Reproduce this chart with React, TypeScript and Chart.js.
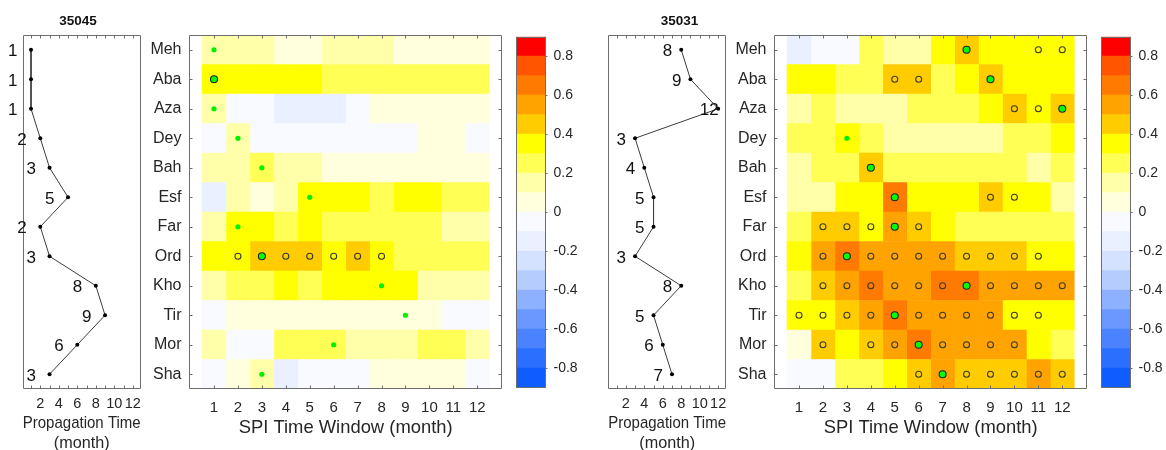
import React, { useEffect, useRef } from 'react';
import { Chart, registerables } from 'chart.js';

Chart.register(...registerables);

const FONT = "'Liberation Sans', Arial, Helvetica, sans-serif";
const TEXT = '#262626';
const FRAME = '#6e6e6e';
Chart.defaults.font.family = FONT;
Chart.defaults.color = TEXT;

// ---------------- data ----------------
const stationLeft = '35045';
const stationRight = '35031';
const rows = ['Meh', 'Aba', 'Aza', 'Dey', 'Bah', 'Esf', 'Far', 'Ord', 'Kho', 'Tir', 'Mor', 'Sha'];
const windows = [1, 2, 3, 4, 5, 6, 7, 8, 9, 10, 11, 12];
const propTicks = [2, 4, 6, 8, 10, 12];
const propMinorTicks = [1, 2, 3, 4, 5, 6, 7, 8, 9, 10, 11, 12];
const cbarTicks = [-0.8, -0.6, -0.4, -0.2, 0, 0.2, 0.4, 0.6, 0.8];
const levelEdges = [-0.9, -0.8, -0.7, -0.6, -0.5, -0.4, -0.3, -0.2, -0.1, 0, 0.1, 0.2, 0.3, 0.4, 0.5, 0.6, 0.7, 0.8, 0.9];
const levelColors = [
  '#0f5cff', '#2a6fff', '#4a82ff', '#6a98ff', '#8db0ff', '#b5ccff', '#d5e2ff', '#eaf0ff', '#f8faff',
  '#ffffde', '#ffffaa', '#ffff55', '#ffff00', '#ffcc00', '#ffa300', '#ff7a00', '#ff5500', '#ff0000',
];

// propagation time (month) per region
const propLeft = [1, 1, 1, 2, 3, 5, 2, 3, 8, 9, 6, 3];
const propRight = [8, 9, 12, 3, 4, 5, 5, 3, 8, 5, 6, 7];

// correlation per region (rows) and SPI time window (columns)
const corrLeft = [
  [0.15, 0.15, 0.15, 0.05, 0.05, 0.15, 0.15, 0.15, 0.05, 0.05, 0.05, 0.05],
  [0.35, 0.35, 0.35, 0.35, 0.35, 0.25, 0.25, 0.25, 0.25, 0.25, 0.25, 0.25],
  [0.15, -0.05, -0.05, -0.15, -0.15, -0.15, -0.05, 0.05, 0.05, 0.05, 0.05, 0.05],
  [-0.05, 0.15, -0.05, -0.05, -0.05, -0.05, -0.05, -0.05, -0.05, 0.05, 0.05, -0.05],
  [0.15, 0.15, 0.25, 0.15, 0.15, 0.05, 0.05, 0.05, 0.05, 0.05, 0.05, 0.05],
  [-0.15, 0.15, 0.05, 0.15, 0.35, 0.35, 0.35, 0.25, 0.35, 0.35, 0.25, 0.25],
  [0.15, 0.35, 0.35, 0.25, 0.35, 0.25, 0.25, 0.25, 0.25, 0.25, 0.15, 0.15],
  [0.35, 0.35, 0.45, 0.45, 0.45, 0.35, 0.45, 0.35, 0.25, 0.25, 0.25, 0.25],
  [0.15, 0.25, 0.25, 0.35, 0.25, 0.35, 0.35, 0.35, 0.35, 0.15, 0.15, 0.15],
  [-0.05, 0.05, 0.05, 0.05, 0.05, 0.05, 0.05, 0.05, 0.05, 0.05, -0.05, -0.05],
  [0.15, -0.05, -0.05, 0.25, 0.25, 0.25, 0.15, 0.15, 0.15, 0.25, 0.25, 0.15],
  [-0.05, 0.05, 0.15, -0.15, -0.05, -0.05, -0.05, 0.05, 0.05, 0.05, 0.05, -0.05],
];
const corrRight = [
  [-0.15, -0.05, -0.05, 0.25, 0.15, 0.15, 0.35, 0.45, 0.35, 0.35, 0.35, 0.35],
  [0.35, 0.35, 0.25, 0.25, 0.45, 0.45, 0.25, 0.35, 0.45, 0.35, 0.35, 0.35],
  [0.15, 0.25, 0.15, 0.15, 0.15, 0.25, 0.25, 0.25, 0.35, 0.45, 0.35, 0.45],
  [0.25, 0.25, 0.35, 0.25, 0.15, 0.15, 0.15, 0.15, 0.15, 0.25, 0.25, 0.35],
  [0.15, 0.25, 0.25, 0.45, 0.25, 0.25, 0.25, 0.25, 0.25, 0.25, 0.15, 0.25],
  [0.15, 0.15, 0.35, 0.35, 0.65, 0.35, 0.35, 0.35, 0.45, 0.35, 0.35, 0.15],
  [0.25, 0.45, 0.45, 0.35, 0.55, 0.45, 0.35, 0.25, 0.25, 0.25, 0.25, 0.25],
  [0.35, 0.55, 0.65, 0.55, 0.55, 0.55, 0.55, 0.45, 0.45, 0.45, 0.35, 0.35],
  [0.25, 0.45, 0.55, 0.65, 0.55, 0.55, 0.65, 0.65, 0.55, 0.55, 0.55, 0.55],
  [0.35, 0.35, 0.45, 0.55, 0.65, 0.55, 0.55, 0.55, 0.55, 0.35, 0.35, 0.35],
  [0.05, 0.45, 0.35, 0.45, 0.55, 0.65, 0.55, 0.55, 0.55, 0.55, 0.35, 0.25],
  [-0.05, -0.05, 0.25, 0.25, 0.35, 0.45, 0.55, 0.45, 0.45, 0.45, 0.55, 0.45],
];

// significant SPI windows per region
const sigLeft = [[], [1], [], [], [], [], [], [2, 3, 4, 5, 6, 7, 8], [], [], [], []];
const sigRight = [
  [8, 11, 12],
  [5, 6, 9],
  [10, 11, 12],
  [],
  [4],
  [5, 9, 10],
  [2, 3, 4, 5, 6],
  [2, 3, 4, 5, 6, 7, 8, 9, 10, 11],
  [2, 3, 4, 5, 6, 7, 8, 9, 10, 11, 12],
  [1, 2, 3, 4, 5, 6, 7, 8, 9, 10, 11],
  [2, 4, 5, 6, 7, 8, 9, 10],
  [6, 7, 8, 9, 10, 11, 12],
];

// ---------------- helpers ----------------
function colorFor(v: number) {
  for (let k = 0; k < levelColors.length; k++) {
    if (v >= levelEdges[k] && v < levelEdges[k + 1]) return levelColors[k];
  }
  return v < 0 ? levelColors[0] : levelColors[levelColors.length - 1];
}

type FrameOpts = {
  xTicks?: number[];
  yTicks?: string[];
  rightOutTicks?: number[];
  tick: number;
};

function framePlugin(o: FrameOpts) {
  return {
    id: 'frame',
    afterDatasetsDraw(chart: any) {
      const { ctx, chartArea: a, scales } = chart;
      const L = Math.round(a.left) + 0.5;
      const R = Math.round(a.right) - 0.5;
      const T = Math.round(a.top) + 0.5;
      const B = Math.round(a.bottom) - 0.5;
      ctx.save();
      ctx.strokeStyle = FRAME;
      ctx.lineWidth = 1;
      ctx.beginPath();
      ctx.rect(L, T, R - L, B - T);
      if (o.xTicks) {
        o.xTicks.forEach((v) => {
          const x = Math.round(scales.x.getPixelForValue(v)) + 0.5;
          ctx.moveTo(x, T);
          ctx.lineTo(x, T + o.tick);
          ctx.moveTo(x, B);
          ctx.lineTo(x, B - o.tick);
        });
      }
      if (o.yTicks) {
        o.yTicks.forEach((r) => {
          const y = Math.round(scales.y.getPixelForValue(scales.y.parse(r))) + 0.5;
          ctx.moveTo(L, y);
          ctx.lineTo(L + o.tick, y);
          ctx.moveTo(R, y);
          ctx.lineTo(R - o.tick, y);
        });
      }
      if (o.rightOutTicks) {
        o.rightOutTicks.forEach((v) => {
          const y = Math.round(scales.y.getPixelForValue(v)) + 0.5;
          ctx.moveTo(R, y);
          ctx.lineTo(R + o.tick, y);
        });
      }
      ctx.stroke();
      ctx.restore();
    },
  };
}

function titlePlugin(text: string, x: number) {
  return {
    id: 'stationTitle',
    afterDraw(chart: any) {
      const { ctx } = chart;
      ctx.save();
      ctx.font = `bold 13.5px ${FONT}`;
      ctx.fillStyle = '#111';
      ctx.textAlign = 'center';
      ctx.textBaseline = 'middle';
      ctx.fillText(text, x, 21);
      ctx.restore();
    },
  };
}

function valueLabelPlugin(values: number[], shift: number) {
  return {
    id: 'valueLabels',
    afterDatasetsDraw(chart: any) {
      const { ctx, scales } = chart;
      const meta = chart.getDatasetMeta(0);
      ctx.save();
      ctx.font = `17px ${FONT}`;
      ctx.fillStyle = '#111';
      ctx.textAlign = 'left';
      ctx.textBaseline = 'middle';
      meta.data.forEach((pt: any, i: number) => {
        const x = scales.x.getPixelForValue(values[i] - shift);
        ctx.fillText(String(values[i]), x, pt.y + 2);
      });
      ctx.restore();
    },
  };
}

const noGrid = { display: false, drawTicks: false };
const noBorder = { display: false };

function propConfig(values: number[], shift: number, station: string, titleX: number, padL: number, padR: number): any {
  return {
    type: 'scatter',
    data: {
      datasets: [
        {
          data: rows.map((r, i) => ({ x: values[i], y: r })),
          showLine: true,
          borderColor: '#3c3c3c',
          borderWidth: 1,
          pointRadius: 2,
          pointBackgroundColor: '#000',
          pointBorderWidth: 0,
          tension: 0,
        },
      ],
    },
    options: {
      animation: false,
      responsive: false,
      devicePixelRatio: 1,
      events: [],
      layout: { padding: { left: padL, right: padR, top: 35, bottom: 0 } },
      plugins: { legend: { display: false }, tooltip: { enabled: false } },
      scales: {
        x: {
          type: 'linear',
          min: 0.1,
          max: 12.85,
          grid: noGrid,
          border: noBorder,
          afterBuildTicks: (s: any) => {
            s.ticks = propTicks.map((v) => ({ value: v }));
          },
          ticks: { padding: 6.5, font: { size: 14.5 }, color: TEXT, autoSkip: false, maxRotation: 0 },
          title: {
            display: true,
            text: ['Propagation Time', '(month)'],
            font: { size: 16.2, lineHeight: 1.25 },
            color: TEXT,
            padding: { top: 0, bottom: 16 },
          },
          afterFit: (s: any) => {
            s.height = 81;
          },
        },
        y: { type: 'category', labels: rows, offset: true, display: false },
      },
    },
    plugins: [framePlugin({ xTicks: propMinorTicks, tick: 3 }), valueLabelPlugin(values, shift), titlePlugin(station, titleX)],
  };
}

function heatConfig(corr: number[][], sig: number[][], prop: number[]): any {
  const cells = windows.map((w, j) => ({
    type: 'bar',
    indexAxis: 'y',
    grouped: false,
    barPercentage: 1,
    categoryPercentage: 1,
    borderWidth: 0,
    order: 10,
    data: rows.map(() => [w - 0.5, w + 0.5]),
    backgroundColor: rows.map((_, i) => colorFor(corr[i][j])),
  }));
  const sigPts: any[] = [];
  const maxSig: any[] = [];
  const maxPlain: any[] = [];
  rows.forEach((r, i) => {
    sig[i].forEach((w) => {
      if (w !== prop[i]) sigPts.push({ x: w, y: r });
    });
    (sig[i].includes(prop[i]) ? maxSig : maxPlain).push({ x: prop[i], y: r });
  });
  return {
    type: 'bar',
    data: {
      labels: rows,
      datasets: [
        ...cells,
        {
          type: 'scatter',
          order: 1,
          data: sigPts,
          pointRadius: 3,
          pointBackgroundColor: 'rgba(0,0,0,0)',
          pointBorderColor: '#3a3a2a',
          pointBorderWidth: 1.1,
        },
        {
          type: 'scatter',
          order: 0,
          data: maxSig,
          pointRadius: 3.5,
          pointBackgroundColor: '#00ff00',
          pointBorderColor: '#222',
          pointBorderWidth: 1.1,
        },
        {
          type: 'scatter',
          order: 0,
          data: maxPlain,
          pointRadius: 2.6,
          pointBackgroundColor: '#00f000',
          pointBorderWidth: 0,
        },
      ],
    },
    options: {
      animation: false,
      responsive: false,
      devicePixelRatio: 1,
      events: [],
      layout: { padding: { left: 0, right: 7.7, top: 35, bottom: 0 } },
      plugins: { legend: { display: false }, tooltip: { enabled: false } },
      scales: {
        x: {
          type: 'linear',
          min: 0.5,
          max: 12.5,
          grid: noGrid,
          border: noBorder,
          afterBuildTicks: (s: any) => {
            s.ticks = windows.map((v) => ({ value: v }));
          },
          ticks: { padding: 10, font: { size: 15 }, color: TEXT, autoSkip: false, maxRotation: 0 },
          title: {
            display: true,
            text: 'SPI Time Window (month)',
            font: { size: 18.4, lineHeight: 1.2 },
            color: TEXT,
            padding: { top: 0, bottom: 11 },
          },
          afterFit: (s: any) => {
            s.height = 61;
          },
        },
        y: {
          type: 'category',
          labels: rows,
          offset: true,
          grid: noGrid,
          border: noBorder,
          ticks: { padding: 7.5, font: { size: 16 }, color: TEXT, autoSkip: false },
          afterFit: (s: any) => {
            s.width = 49;
          },
        },
      },
    },
    plugins: [framePlugin({ xTicks: windows, yTicks: rows, tick: 3 })],
  };
}

function cbarConfig(axisWidth: number): any {
  return {
    type: 'bar',
    data: {
      labels: [''],
      datasets: levelColors.map((c, k) => ({
        data: [[levelEdges[k], levelEdges[k + 1]]],
        backgroundColor: c,
        grouped: false,
        barPercentage: 1,
        categoryPercentage: 1,
        borderWidth: 0,
      })),
    },
    options: {
      animation: false,
      responsive: false,
      devicePixelRatio: 1,
      events: [],
      layout: { padding: { left: 6, right: 0, top: 36.7, bottom: 62.3 } },
      plugins: { legend: { display: false }, tooltip: { enabled: false } },
      scales: {
        x: { type: 'category', offset: true, display: false },
        y: {
          type: 'linear',
          position: 'right',
          min: -0.9,
          max: 0.9,
          grid: noGrid,
          border: noBorder,
          afterBuildTicks: (s: any) => {
            s.ticks = cbarTicks.map((v) => ({ value: v }));
          },
          ticks: {
            padding: 7.5,
            font: { size: 14 },
            color: TEXT,
            autoSkip: false,
            callback: (v: any) => (Math.abs(v) < 1e-9 ? '0' : Number(v).toFixed(1)),
          },
          afterFit: (s: any) => {
            s.width = axisWidth;
          },
        },
      },
    },
    plugins: [framePlugin({ rightOutTicks: cbarTicks, tick: 2 })],
  };
}

function ChartBox(props: { left: number; top: number; width: number; height: number; make: () => any }) {
  const ref = useRef<HTMLCanvasElement | null>(null);
  useEffect(() => {
    if (!ref.current) return;
    const chart = new Chart(ref.current, props.make());
    return () => chart.destroy();
  }, []);
  return (
    <canvas
      ref={ref}
      width={props.width}
      height={props.height}
      style={{ position: 'absolute', left: props.left, top: props.top, width: props.width, height: props.height }}
    />
  );
}

export default function App() {
  return (
    <div
      style={{
        position: 'fixed',
        left: 0,
        top: 0,
        width: 1166,
        height: 450,
        overflow: 'hidden',
        background: '#ffffff',
      }}
    >
      <ChartBox left={0} top={0} width={150} height={470} make={() => propConfig(propLeft, 2.5, stationLeft, 78, 22.7, 9.3)} />
      <ChartBox left={140} top={0} width={370} height={450} make={() => heatConfig(corrLeft, sigLeft, propLeft)} />
      <ChartBox left={510} top={0} width={70} height={450} make={() => cbarConfig(34)} />
      <ChartBox left={586} top={0} width={150} height={470} make={() => propConfig(propRight, 2, stationRight, 93.5, 22.3, 10)} />
      <ChartBox left={725} top={0} width={370} height={450} make={() => heatConfig(corrRight, sigRight, propRight)} />
      <ChartBox left={1095} top={0} width={71} height={450} make={() => cbarConfig(35)} />
    </div>
  );
}
